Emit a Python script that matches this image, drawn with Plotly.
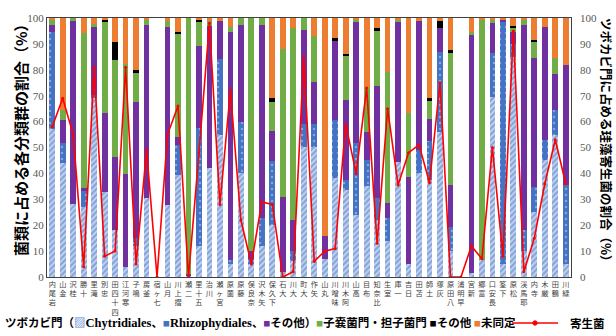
import plotly.graph_objects as go

# Reservoir sites (left to right)
sites = [
    "岩尾内", "金山", "桂沢", "十勝", "滝里", "忠別", "四十四田", "寒河江", "鳴子", "釜房",
    "七ヶ宿", "月山", "摺上川", "二瀬", "五十里", "川治", "宮ヶ瀬", "薗原", "藤原", "奈良俣",
    "矢木沢", "下久保", "大石", "大川", "大町", "矢作", "丸山", "味噌川", "阿木川", "高山",
    "布目", "比奈知", "室生", "一庫", "日吉", "苫田", "土師", "灰塚", "八田原", "早明浦",
    "新宮", "富郷", "長安口", "下筌", "松原", "耶馬渓", "寺内", "厳木", "鶴田", "緑川",
]

# Share of each taxonomic group in the fungal community (%)
chytridiales = [
    57, 44, 28, 27, 69, 32.7, 18, 3.7, 12, 30.4,
    0, 27.8, 39.4, 0.5, 12, 42, 54.8, 5, 40, 5,
    12, 20, 2, 6, 50.3, 50.3, 7, 38.1, 33.6, 24,
    35, 22, 14, 44.5, 5, 40, 37.5, 56, 10, 0,
    1.5, 6.6, 69.6, 5, 85, 10, 25, 45, 55, 5,
]
rhizophydiales = [
    37.5, 7.6, 0, 6.5, 1.3, 0, 0, 0, 3, 0,
    0, 0, 11.6, 0, 45.5, 0, 29.2, 1.6, 20, 2,
    10.6, 24.8, 0, 4, 8.8, 8.8, 0, 22.5, 3.9, 27.6,
    10, 8.4, 8.6, 0, 0, 9, 15, 31, 9.4, 0,
    0, 0, 16.8, 93.5, 5, 8.1, 9.9, 7.9, 9.5, 30.5,
]
chytrid_other = [
    2.7, 9, 71, 0.7, 26.4, 30.5, 28.4, 36.1, 52.7, 66.9,
    0, 68.9, 3.2, 0.5, 31.5, 55, 15, 87.9, 37.3, 3,
    74.7, 11.6, 29, 12, 36.3, 16, 9, 30.9, 30.8, 46.9,
    11, 43.3, 5.8, 54.2, 33.7, 49.7, 8.4, 9, 16, 0,
    91.9, 0, 11.5, 1, 4.7, 79.2, 49.5, 43.8, 14, 46.4,
]
asco_basidio = [
    2.3, 4, 1, 59.9, 1, 35.3, 37.4, 42.3, 10.9, 2,
    0, 2, 39.9, 99, 9.6, 2, 0, 2.2, 2.7, 90,
    2.7, 11.3, 56.9, 74, 4.6, 17.8, 0, 0, 17.4, 0.7,
    17, 21.2, 50.9, 0.6, 24.5, 0, 7.4, 0, 51, 0,
    1.3, 92.9, 1.5, 0, 1.7, 1.9, 6.6, 0, 6, 0,
]
fungi_other = [
    0, 0, 0, 0, 0, 0.7, 7.1, 0, 1.3, 0,
    0, 0, 0.6, 0, 0.7, 0, 0, 0, 0, 0,
    0, 1.3, 0, 0, 0, 0, 0, 0.6, 0.5, 0,
    0, 1.2, 0, 0, 0, 0, 0.7, 3, 1.2, 0,
    0, 0, 0, 0, 0.5, 0, 0.4, 0, 0, 0,
]
unidentified = [
    0.5, 35.4, 0, 5.9, 2.3, 0.8, 9.1, 17.9, 20.1, 0.7,
    0, 1.3, 5.3, 0, 0.8, 1, 1, 3.3, 0, 0,
    0, 31, 12.1, 4, 0, 7.1, 84, 7.9, 13.8, 0.8,
    27, 3.9, 20.7, 0.7, 36.8, 1.3, 31, 1, 12.4, 0,
    5.3, 0.5, 0.6, 0.5, 3.1, 0.8, 8.6, 3.3, 15.5, 18.1,
]

# Share of diatom parasites within Chytridiomycota (%)
parasite_share = [
    58, 69, 55, 4, 81, 8, 10, 81, 5, 49,
    0, 55, 66, 0, 48, 98, 28, 72, 22, 5,
    29, 28, 0, 2, 85, 6, 10, 11, 59, 40,
    73, 13, 65, 35.5, 48, 51, 36.4, 75, 0, 0,
    12, 7, 50, 8, 95, 2, 15, 36, 53, 36,
]

W, H = 616, 336
ML, MR, MT, MB = 47, 45, 18, 59
PW, PH = W - ML - MR, H - MT - MB


def px(x):
    """pixel x -> paper x"""
    return (x - ML) / PW


def py(y):
    """pixel y (from top) -> paper y"""
    return (H - MB - y) / PH


BLUE = "#4472C4"
PURPLE = "#7030A0"
GREEN = "#70AD47"
ORANGE = "#ED7D31"
RED = "#FF0000"
TICK_GREY = "#595959"

serif = "Liberation Serif, Times New Roman, serif"
jp = "Noto Sans CJK JP, sans-serif"
mixed = "Liberation Serif, Noto Sans CJK JP, DejaVu Sans, serif"

# labels are stacked one character per line, read upward
tick_text = ["<br>".join(reversed(s)) for s in sites]

fig = go.Figure()

bar_kw = dict(x=sites, width=0.55, showlegend=False, marker_line_width=0)

fig.add_trace(go.Bar(
    y=chytridiales, name="Chytridiales",
    marker=dict(color=BLUE, pattern=dict(shape="/", fgcolor=BLUE, bgcolor="#C9D8F1",
                                         size=4, solidity=0.6)),
    **bar_kw))
fig.add_trace(go.Bar(
    y=rhizophydiales, name="Rhizophydiales",
    marker=dict(color=BLUE, pattern=dict(shape=".", fgcolor="#C9D7F0", bgcolor=BLUE,
                                         size=6, solidity=0.12)),
    **bar_kw))
fig.add_trace(go.Bar(y=chytrid_other, name="その他", marker_color=PURPLE, **bar_kw))
fig.add_trace(go.Bar(y=asco_basidio, name="子嚢菌門・担子菌門", marker_color=GREEN, **bar_kw))
fig.add_trace(go.Bar(y=fungi_other, name="その他", marker_color="#000000", **bar_kw))
fig.add_trace(go.Bar(y=unidentified, name="未同定", marker_color=ORANGE, **bar_kw))

fig.add_trace(go.Scatter(
    x=sites, y=parasite_share, yaxis="y2", name="寄生菌", mode="lines+markers",
    line=dict(color=RED, width=1.6), marker=dict(color=RED, size=3),
    showlegend=False))

axis_line = dict(showline=True, linecolor="#404040", linewidth=1, showgrid=False, zeroline=False)

fig.update_layout(
    width=W, height=H,
    margin=dict(l=ML, r=MR, t=MT, b=MB, pad=0),
    paper_bgcolor="white", plot_bgcolor="white",
    barmode="stack",
    showlegend=False,
    xaxis=dict(type="category", tickmode="array", tickvals=sites, ticktext=tick_text,
               tickangle=0, tickfont=dict(family=jp, size=7.2, color="#404040"),
               range=[-0.5, len(sites) - 0.5], ticks="", mirror=True, **axis_line),
    yaxis=dict(range=[0, 100], dtick=10, ticks="", mirror=True,
               tickfont=dict(family=serif, size=11, color=TICK_GREY), **axis_line),
    yaxis2=dict(range=[0, 100], dtick=10, ticks="", overlaying="y", side="right",
                showline=False, showgrid=False, zeroline=False,
                tickfont=dict(family=serif, size=11, color=TICK_GREY),
                ticklabelstandoff=8),
)

LEG_Y = 323
legend_y = py(LEG_Y)


def swatch(color, char="■"):
    return f"<span style='color:{color}'>{char}</span>"


def latin(text):
    return f"<span style='font-size:12.5px'>{text}</span>"


legend_text = (
    "ツボカビ門（"
    + swatch("#5B8BD6", "▨") + latin("Chytridiales") + "、"
    + swatch(BLUE) + latin("Rhizophydiales") + "、"
    + swatch(PURPLE) + "その他）"
    + swatch(GREEN) + "子嚢菌門・担子菌門 "
    + swatch("#000000") + "その他 "
    + swatch(ORANGE) + "未同定"
)

bold_jp = dict(family=jp, size=11.5, color="#000000", weight="bold")

annotations = [
    dict(text="菌類に占める各分類群の割合（%）", x=px(20), y=py(137), textangle=-90,
         xanchor="center", font=dict(family=jp, size=15, color="#000000", weight="bold")),
    dict(text="ツボカビ門に占める珪藻寄生菌の割合（%）", x=px(607), y=py(143), textangle=90,
         xanchor="center", font=dict(family=jp, size=12.5, color="#000000", weight="bold")),
    # legend row
    dict(text=legend_text, x=px(3), y=legend_y, xanchor="left",
         font=dict(family=mixed, size=11.5, color="#000000", weight="bold")),
    dict(text="寄生菌", x=px(568), y=legend_y, xanchor="left", font=bold_jp),
]
for a in annotations:
    a.update(xref="paper", yref="paper", showarrow=False, yanchor="middle")
fig.update_layout(annotations=annotations)

# legend key for the parasite line
fig.add_shape(type="line", xref="paper", yref="paper", x0=px(512), x1=px(558),
              y0=legend_y, y1=legend_y, line=dict(color=RED, width=1.3))
r = 2.2
fig.add_shape(type="circle", xref="paper", yref="paper",
              x0=px(535 - r), x1=px(535 + r), y0=py(LEG_Y + r), y1=py(LEG_Y - r),
              line=dict(color=RED, width=1), fillcolor=RED)

fig.write_html("out.html")
